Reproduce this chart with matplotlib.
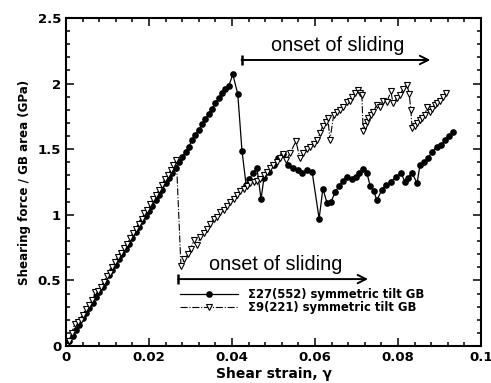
import numpy as np
import matplotlib.pyplot as plt
from matplotlib.ticker import MultipleLocator, FixedLocator, FixedFormatter

# Sigma27(552) GB: shear strain and shearing force / GB area (GPa)
strain_27 = [0.0000, 0.0008, 0.0016, 0.0024, 0.0032, 0.0040, 0.0048, 0.0056, 0.0064, 0.0072,
             0.0080, 0.0088, 0.0096, 0.0104, 0.0112, 0.0120, 0.0128, 0.0136, 0.0144, 0.0152,
             0.0160, 0.0168, 0.0176, 0.0184, 0.0192, 0.0200, 0.0208, 0.0216, 0.0224, 0.0232,
             0.0240, 0.0248, 0.0256, 0.0264, 0.0272, 0.0280, 0.0288, 0.0296, 0.0304, 0.0312,
             0.0320, 0.0328, 0.0336, 0.0344, 0.0352, 0.0360, 0.0368, 0.0376, 0.0384, 0.0392,
             0.0402, 0.0414, 0.0424, 0.0434, 0.0441, 0.0451, 0.0460, 0.0470, 0.0477, 0.0489,
             0.0501, 0.0511, 0.0523, 0.0535, 0.0547, 0.0558, 0.0569, 0.0581, 0.0593, 0.0610,
             0.0619, 0.0629, 0.0639, 0.0648, 0.0658, 0.0667, 0.0677, 0.0689, 0.0699, 0.0706,
             0.0716, 0.0725, 0.0733, 0.0742, 0.0749, 0.0761, 0.0771, 0.0783, 0.0795, 0.0807,
             0.0817, 0.0824, 0.0834, 0.0846, 0.0853, 0.0863, 0.0872, 0.0882, 0.0894, 0.0904,
             0.0913, 0.0923, 0.0933]
force_27 = [0.00, 0.04, 0.08, 0.12, 0.16, 0.21, 0.25, 0.29, 0.33, 0.37,
            0.41, 0.45, 0.49, 0.54, 0.58, 0.62, 0.66, 0.70, 0.74, 0.78,
            0.82, 0.87, 0.91, 0.95, 0.99, 1.03, 1.07, 1.11, 1.15, 1.19,
            1.24, 1.28, 1.32, 1.36, 1.40, 1.44, 1.48, 1.52, 1.57, 1.61,
            1.65, 1.69, 1.73, 1.77, 1.81, 1.85, 1.89, 1.93, 1.96, 1.98,
            2.07, 1.92, 1.49, 1.23, 1.27, 1.32, 1.36, 1.12, 1.28, 1.33,
            1.38, 1.43, 1.46, 1.38, 1.36, 1.34, 1.32, 1.34, 1.33, 0.97,
            1.20, 1.09, 1.10, 1.17, 1.22, 1.26, 1.29, 1.27, 1.29, 1.32,
            1.35, 1.32, 1.22, 1.18, 1.11, 1.19, 1.23, 1.25, 1.29, 1.32,
            1.25, 1.28, 1.32, 1.24, 1.38, 1.40, 1.43, 1.48, 1.52, 1.53,
            1.57, 1.60, 1.63]

# Sigma9(221) GB
strain_9 = [0.0000, 0.0007, 0.0014, 0.0021, 0.0028, 0.0035, 0.0042, 0.0049, 0.0056, 0.0063,
            0.0070, 0.0077, 0.0084, 0.0091, 0.0098, 0.0105, 0.0112, 0.0119, 0.0126, 0.0133,
            0.0140, 0.0147, 0.0154, 0.0161, 0.0168, 0.0175, 0.0182, 0.0189, 0.0196, 0.0203,
            0.0210, 0.0217, 0.0224, 0.0231, 0.0238, 0.0245, 0.0252, 0.0259, 0.0266,
            0.0277, 0.0285, 0.0293, 0.0301, 0.0308, 0.0316, 0.0324, 0.0332, 0.0340, 0.0348,
            0.0356, 0.0364, 0.0372, 0.0380, 0.0388, 0.0396, 0.0404, 0.0412, 0.0420, 0.0428,
            0.0436, 0.0444, 0.0452, 0.0460, 0.0468, 0.0476, 0.0484, 0.0492, 0.0500, 0.0508,
            0.0516, 0.0523, 0.0531, 0.0540, 0.0554, 0.0564, 0.0572, 0.0580, 0.0588, 0.0597,
            0.0605, 0.0612, 0.0619, 0.0626, 0.0631, 0.0636, 0.0645, 0.0653, 0.0660, 0.0667,
            0.0677, 0.0684, 0.0690, 0.0696, 0.0704, 0.0708, 0.0713, 0.0716, 0.0721, 0.0725,
            0.0728, 0.0734, 0.0740, 0.0749, 0.0757, 0.0764, 0.0773, 0.0783, 0.0788, 0.0798,
            0.0805, 0.0812, 0.0822, 0.0827, 0.0831, 0.0834, 0.0841, 0.0847, 0.0853, 0.0859,
            0.0865, 0.0870, 0.0877, 0.0883, 0.0889, 0.0895, 0.0901, 0.0908, 0.0916]
force_9 = [0.00, 0.04, 0.10, 0.17, 0.18, 0.20, 0.24, 0.28, 0.31, 0.35,
           0.41, 0.42, 0.45, 0.49, 0.53, 0.56, 0.60, 0.64, 0.68, 0.71,
           0.75, 0.78, 0.82, 0.86, 0.89, 0.93, 0.97, 1.01, 1.04, 1.08,
           1.12, 1.15, 1.19, 1.23, 1.27, 1.30, 1.34, 1.38, 1.42,
           0.61, 0.66, 0.70, 0.74, 0.81, 0.77, 0.83, 0.86, 0.89, 0.93,
           0.97, 0.98, 1.02, 1.04, 1.07, 1.10, 1.12, 1.15, 1.18, 1.20,
           1.22, 1.24, 1.25, 1.26, 1.27, 1.30, 1.33, 1.36, 1.38, 1.40,
           1.43, 1.46, 1.42, 1.47, 1.56, 1.43, 1.47, 1.50, 1.52, 1.54,
           1.57, 1.62, 1.68, 1.71, 1.74, 1.57, 1.76, 1.78, 1.80, 1.82,
           1.86, 1.87, 1.90, 1.93, 1.95, 1.93, 1.91, 1.64, 1.68, 1.71,
           1.74, 1.76, 1.78, 1.84, 1.82, 1.87, 1.86, 1.94, 1.85, 1.89,
           1.91, 1.96, 1.99, 1.92, 1.80, 1.66, 1.68, 1.70, 1.72, 1.74,
           1.76, 1.82, 1.78, 1.81, 1.84, 1.85, 1.87, 1.90, 1.93]

xticks = [0, 0.02, 0.04, 0.06, 0.08, 0.1]
xticklabels = ['0', '0.02', '0.04', '0.06', '0.08', '0.1']
yticks = [0, 0.5, 1, 1.5, 2, 2.5]
yticklabels = ['0', '0.5', '1', '1.5', '2', '2.5']

# onset of sliding arrows: (start strain, end strain, level)
arrow_top = (0.0423, 0.0878, 2.18)
arrow_bottom = (0.0270, 0.0728, 0.51)

plt.rcParams['font.family'] = ['DejaVu Sans']

fig = plt.figure(figsize=(4.91, 3.83), dpi=100)
ax = fig.add_axes([0.1344, 0.0966, 0.8452, 0.8564])

ax.plot(strain_27, force_27, '-', color='black', lw=0.9, marker='o', ms=3.8,
        mfc='black', mec='black', label=u'\u03a327(552) symmetric tilt GB')
ax.plot(strain_9, force_9, '-.', color='black', lw=0.8, marker='v', ms=4.0,
        mfc='white', mec='black', mew=0.8, label=u'\u03a39(221) symmetric tilt GB')

ax.set_xlim(0, 0.1)
ax.set_ylim(0, 2.5)
ax.xaxis.set_major_locator(FixedLocator(xticks))
ax.xaxis.set_major_formatter(FixedFormatter(xticklabels))
ax.yaxis.set_major_locator(FixedLocator(yticks))
ax.yaxis.set_major_formatter(FixedFormatter(yticklabels))
ax.xaxis.set_minor_locator(MultipleLocator(0.004))
ax.yaxis.set_minor_locator(MultipleLocator(0.1))
ax.tick_params(which='both', direction='in', top=True, right=True, width=1.1)
ax.tick_params(which='major', length=5.5, labelsize=9.5)
ax.tick_params(which='minor', length=3)
for lab in ax.get_xticklabels() + ax.get_yticklabels():
    lab.set_fontweight('bold')
for sp in ax.spines.values():
    sp.set_linewidth(1.5)

ax.set_xlabel(u'Shear strain, \u03b3', fontsize=10, fontweight='bold', labelpad=2)
ax.set_ylabel('Shearing force / GB area (GPa)', fontsize=8.6, fontweight='bold', labelpad=5)

for (x0, x1, yl) in [arrow_top, arrow_bottom]:
    ax.annotate('', xy=(x1, yl), xytext=(x0, yl),
                arrowprops=dict(arrowstyle='->,head_length=0.6,head_width=0.3',
                                color='black', lw=1.4, shrinkA=0, shrinkB=0))
    ax.vlines(x0, yl - 0.04, yl + 0.04, color='black', lw=1.8)

ax.text(0.0654, 2.25, 'onset of sliding', fontsize=14.3, family='Liberation Sans',
        ha='center', va='baseline')
ax.text(0.0505, 0.58, 'onset of sliding', fontsize=14.3, family='Liberation Sans',
        ha='center', va='baseline')

leg = ax.legend(loc='upper left', bbox_to_anchor=(0.2747, 0.178), frameon=False,
                numpoints=1, handlelength=5.0, handletextpad=0.8, labelspacing=0.0,
                borderpad=0, borderaxespad=0,
                prop={'size': 8.4, 'weight': 'bold'})

fig.savefig('out.png', dpi=100)
